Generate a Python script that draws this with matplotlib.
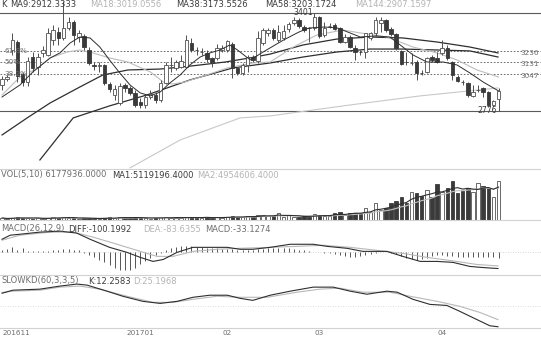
import numpy as np
import pandas as pd
import matplotlib
matplotlib.use('Agg')
import matplotlib.pyplot as plt

# ---- daily bars (index 0 = first bar on the left)
opens = [2942, 2980, 3166, 3217, 3012, 2961, 3121, 3057, 3147, 3134,
         3230, 3281, 3243, 3307, 3345, 3249, 3256, 3166, 3070, 3064,
         3070, 2948, 2878, 2827, 2942, 2923, 2891, 2833, 2814, 2865,
         2878, 2846, 2955, 3070, 3051, 3057, 3057, 3211, 3166, 3153,
         3147, 3115, 3115, 3166, 3166, 3204, 3051, 3019, 3070, 3121,
         3096, 3211, 3275, 3294, 3230, 3243, 3300, 3339, 3358, 3313,
         3307, 3307, 3377, 3262, 3320, 3326, 3307, 3217, 3249, 3179,
         3153, 3153, 3243, 3275, 3339, 3358, 3300, 3268, 3160, 3089,
         3083, 3089, 3019, 3025, 3121, 3115, 3147, 3179, 3089, 2993,
         2961, 2955, 2872, 2910, 2923, 2897, 2814, 2852]
closes = [2980, 2993, 3230, 3000, 2961, 3096, 3051, 3121, 3166, 3275,
          3294, 3243, 3307, 3345, 3262, 3275, 3185, 3083, 3064, 3070,
          2955, 2916, 2916, 2936, 2923, 2891, 2814, 2814, 2865, 2884,
          2846, 2955, 3070, 3072, 3089, 3096, 3230, 3166, 3164, 3155,
          3108, 3089, 3179, 3179, 3224, 3051, 3019, 3070, 3121, 3102,
          3243, 3294, 3294, 3243, 3281, 3288, 3332, 3358, 3320, 3294,
          3305, 3377, 3256, 3307, 3322, 3300, 3217, 3249, 3185, 3153,
          3151, 3275, 3275, 3358, 3358, 3294, 3268, 3179, 3076, 3087,
          3085, 3019, 3017, 3115, 3102, 3089, 3179, 3115, 3006, 2968,
          2959, 2878, 2897, 2912, 2897, 2814, 2840, 2904]
highs = [3000, 3006, 3275, 3230, 3025, 3121, 3153, 3147, 3192, 3307,
         3326, 3313, 3480, 3377, 3358, 3294, 3268, 3185, 3089, 3089,
         3076, 2961, 2942, 2955, 2955, 2936, 2910, 2859, 2878, 2910,
         2897, 2974, 3089, 3121, 3102, 3134, 3262, 3243, 3185, 3179,
         3166, 3121, 3204, 3198, 3230, 3217, 3057, 3083, 3134, 3134,
         3288, 3307, 3307, 3307, 3326, 3326, 3345, 3377, 3371, 3326,
         3313, 3401, 3384, 3345, 3339, 3339, 3313, 3268, 3262, 3198,
         3166, 3275, 3281, 3377, 3377, 3365, 3313, 3275, 3166, 3153,
         3147, 3102, 3038, 3121, 3134, 3153, 3230, 3198, 3096, 3006,
         2974, 2961, 2942, 2942, 2929, 2904, 2846, 2923]
lows = [2910, 2968, 3134, 2961, 2936, 2936, 3025, 3006, 3121, 3128,
        3198, 3198, 3230, 3294, 3198, 3217, 3166, 3070, 3038, 3025,
        2942, 2897, 2846, 2814, 2897, 2878, 2801, 2795, 2795, 2852,
        2827, 2833, 2948, 3025, 3038, 3051, 3051, 3153, 3134, 3134,
        3089, 3057, 3102, 3153, 3153, 2987, 3006, 3006, 3025, 3089,
        3083, 3198, 3256, 3230, 3217, 3230, 3281, 3326, 3307, 3281,
        3217, 3294, 3243, 3249, 3307, 3294, 3211, 3211, 3179, 3102,
        3134, 3115, 3230, 3256, 3281, 3281, 3256, 3166, 3070, 3070,
        3070, 2974, 3006, 3019, 3089, 3083, 3134, 3102, 2974, 2961,
        2942, 2865, 2865, 2897, 2865, 2801, 2801, 2776]
# volume, millions of shares
volume = [0.32, 0.16, 0.32, 0.48, 0.32, 0.32, 0.16, 0.32, 0.16, 0.32,
          0.48, 0.32, 0.48, 0.32, 0.32, 0.16, 0.32, 0.32, 0.16, 0.16,
          0.32, 0.48, 0.32, 0.48, 0.32, 0.32, 0.48, 0.32, 0.32, 0.16,
          0.32, 0.48, 0.48, 0.32, 0.32, 0.32, 0.48, 0.48, 0.32, 0.32,
          0.48, 0.32, 0.48, 0.32, 0.48, 0.63, 0.48, 0.48, 0.63, 0.48,
          0.79, 0.79, 0.63, 0.63, 1.11, 0.48, 0.79, 0.48, 0.48, 0.63,
          0.48, 0.95, 0.79, 0.63, 0.63, 1.11, 1.27, 0.79, 1.11, 1.11,
          1.11, 1.90, 1.27, 2.69, 1.58, 1.90, 2.69, 3.01, 3.64, 2.69,
          4.44, 4.28, 3.80, 4.75, 3.64, 5.70, 4.44, 5.07, 6.18, 4.28,
          4.59, 5.07, 4.44, 5.86, 5.39, 5.07, 3.64, 6.18]

# moving averages: (bar index, value)
ma9_x = [0, 3.5, 6, 9.4, 11.3, 13.3, 15.2, 17.2, 19.1, 21, 23, 25, 27, 29, 30.9, 32.8, 34.8,
         36.7, 38.7, 40.6, 42.6, 44.5, 46, 48.5, 51, 55, 58, 60, 63, 65.5, 68, 70, 73,
         75.8, 78.3, 80.3, 83, 86.2, 88.9, 91.4, 94, 97]
ma9_y = [2865, 2942, 3025, 3115, 3147, 3211, 3249, 3243, 3185, 3102, 3019, 2942, 2891, 2872,
         2897, 2955, 3006, 3070, 3121, 3147, 3166, 3198, 3166, 3102, 3153, 3230, 3281, 3307,
         3313, 3307, 3275, 3249, 3256, 3249, 3185, 3134, 3089, 3089, 3070, 3019, 2961, 2904]
ma18_x = [0, 3.5, 7, 9.4, 12.7, 15.2, 17.8, 21, 24.6, 29, 31.5, 33.2, 35.7, 40, 44, 49, 52.4,
          56.9, 61.5, 66.6, 70, 75.2, 80.3, 85, 88.9, 92.8, 97]
ma18_y = [2878, 2993, 3051, 3115, 3153, 3166, 3147, 3115, 3089, 3025, 2961, 2948, 2961, 3006,
          3051, 3083, 3089, 3185, 3262, 3294, 3275, 3249, 3185, 3147, 3102, 3038, 2993]
ma38_x = [0, 4.9, 9.4, 15.2, 19.7, 24.6, 30.9, 37.1, 43.6, 48.4, 52.4, 58.8, 65.4, 71.9, 78.3,
          85, 91.4, 96.9]
ma38_y = [2622, 2731, 2827, 2929, 3006, 3038, 3044, 3064, 3089, 3115, 3140, 3198, 3236, 3249,
          3243, 3217, 3185, 3147]
ma58_x = [7.4, 13.9, 21, 28.3, 36.7, 45.1, 52.4, 58.8, 65.4, 71.9, 78.3, 85, 91.4, 96.9]
ma58_y = [2462, 2731, 2808, 2878, 2974, 3051, 3083, 3121, 3153, 3172, 3172, 3166, 3160, 3121]
ma144_x = [25, 34.8, 46.5, 52.4, 68, 81.7, 96.9]
ma144_y = [2411, 2590, 2731, 2744, 2814, 2872, 2923]

# MACD(26,12,9)
diff_x = [0, 1.6, 3.5, 7.4, 11.3, 14.6, 17.2, 21, 24.4, 27, 29.5, 31.5, 34.2, 37.3, 40.6, 44,
          46.5, 49, 52.4, 56.3, 60.8, 63.5, 67.4, 70.5, 75.2, 78.3, 81.7, 85, 88.1, 91.4, 94, 96.9]
diff_y = [81, 106, 112, 125, 131, 119, 81, 31, 0, -31, -56, -44, 0, 31, 31, 31,
          19, 19, 31, 50, 50, 37, 25, 6, 6, -25, -56, -56, -62, -87, -94, -100]
dea_x = [0, 3.5, 9.4, 13.9, 17.8, 22.5, 27, 30.3, 33.4, 37.3, 42, 46.5, 52.4, 57.6, 62.7, 68,
         73.3, 78.3, 83, 87.5, 92.8, 96.9]
dea_y = [75, 106, 125, 125, 94, 50, 6, -25, -25, 6, 19, 25, 31, 37, 44, 31,
         12, -6, -31, -50, -75, -84]
macd_bar = [12, 19, 31, 12, 25, 6, 6, 6, 6, 6, 12, 12, 19, 19, 12, 12,
            -6, -19, -31, -50, -62, -81, -94, -106, -112, -106, -94, -75, -56,
            -37, -19, -6, 12, 25, 31, 37, 37, 37, 31, 31, 25,
            25, 25, 19, 19, 19, 12, 12, 12, 12, 19, 19, 25,
            25, 25, 25, 25, 19, 12, 12, 6, 0, 0, -6, -6, -12,
            -19, -25, -31, -31, -25, -19, -12, -6, 0, 0, -6, -12,
            -25, -37, -44, -50, -44, -37, -25, -19,
            -19, -25, -25, -31, -31, -31, -31, -31, -31, -31, -31, -33]

# SLOWKD(60,3,3,5)
k_x = [0, 2.1, 7.4, 11.3, 14.6, 16.6, 20.5, 23.6, 27.5, 30.9, 34.2, 37.3, 40.6, 44, 46.5, 49,
       52.4, 56.3, 60.8, 64.7, 68, 71.3, 75.2, 77.2, 80.3, 83.6, 86.9, 89.5, 92.8, 95.3, 96.9]
k_y = [73.6, 79.2, 81.1, 86.7, 90.4, 88.5, 77.4, 68.1, 58.8, 55.0, 58.8, 66.2, 70.0, 70.0, 64.3,
       60.6, 70.0, 77.4, 84.8, 84.8, 77.4, 71.8, 77.4, 75.5, 62.5, 53.2, 51.3, 40.2, 25.3, 14.1, 12.3]
d_x = [0, 2.1, 7.4, 11.3, 15.2, 19.1, 24.4, 29.5, 33.4, 37.3, 42, 46.5, 51.8, 57.6, 62.1, 66,
       70.5, 75.8, 79.7, 85, 89.5, 93.4, 96.9]
d_y = [75.0, 77.4, 79.2, 84.8, 86.7, 81.1, 68.1, 56.9, 56.9, 62.5, 68.1, 66.2, 66.2, 75.5, 81.1,
       82.9, 75.5, 75.5, 68.1, 58.8, 49.5, 38.3, 25.3]

month_pos = [0, 27, 44, 62, 86]
month_lab = ['201611', '201701', '02', '03', '04']

hi_lo = [3401, 2776]
fib_ratio = [0.618, 0.5, 0.382]
fib_lab = ['61.8%', '50%', '38.2%']
right_lab = ['3236', '3131', '3047']

W, H = 541, 338
DARK = '#3c3c3c'
LIGHT = '#b4b4b4'
GRAY = '#6e6e6e'
SEP = '#d2d2d2'
FS = 6.0

fig = plt.figure(figsize=(W / 100, H / 100), dpi=100)
fig.patch.set_facecolor('white')


def panel(top, bottom):
    ax = fig.add_axes([0, 1 - bottom / H, 1, (bottom - top) / H])
    ax.set_xlim(-0.4, 105.3)
    for s in ax.spines.values():
        s.set_visible(False)
    ax.set_xticks([])
    ax.set_yticks([])
    return ax


def ptext(x, y, s, color, **kw):
    fig.text(x / W, 1 - y / H, s, color=color, fontsize=FS, va='center', ha='left', **kw)


n = len(opens)
idx = np.arange(n)
o = np.array(opens, float)
c = np.array(closes, float)
up = c >= o

# ---------------- price panel
ax = panel(10, 169)
ax.set_ylim(2404, 3422)
ax.vlines(idx, lows, highs, color='#505050', lw=0.7, zorder=2, clip_on=False)
body_lo = np.minimum(o, c)
body_h = np.maximum(np.abs(c - o), 2.5)
ax.bar(idx[up], body_h[up], bottom=body_lo[up], width=0.68, color='white',
       edgecolor='#505050', lw=0.6, zorder=3)
ax.bar(idx[~up], body_h[~up], bottom=body_lo[~up], width=0.68, color='#3a3a3a',
       edgecolor='#3a3a3a', lw=0.6, zorder=3)

ax.plot(ma144_x, ma144_y, color='#c8c8c8', lw=0.8, zorder=1)
ax.plot(ma58_x, ma58_y, color='#2e2e2e', lw=0.9, zorder=1)
ax.plot(ma38_x, ma38_y, color='#2e2e2e', lw=0.9, zorder=1)
ax.plot(ma18_x, ma18_y, color='#bdbdbd', lw=0.8, zorder=1)
ax.plot(ma9_x, ma9_y, color='#2e2e2e', lw=0.7, zorder=4)

hi, lo = hi_lo
ax.axhline(hi, color='#5a5a5a', lw=0.8, zorder=0)
ax.axhline(lo, color='#5a5a5a', lw=0.8, zorder=0)
for r, lab, rl in zip(fib_ratio, fib_lab, right_lab):
    lv = lo + r * (hi - lo)
    ax.axhline(lv, color='#555555', lw=0.6, ls=(0, (2, 2)), zorder=0)
    ax.text(0.5, lv, lab, fontsize=FS - 0.8, color=GRAY, va='center', ha='left', zorder=5)
    ax.text(104.8, lv - 14, rl, fontsize=FS - 0.8, color=GRAY, va='center', ha='right')
ax.text(int(np.argmax(highs[20:])) + 20 - 0.2, hi + 4, str(hi), fontsize=FS - 0.4,
        color=DARK, ha='right', va='center', zorder=5)
ax.text(int(np.argmin(lows)) - 0.3, lo + 4, str(lo), fontsize=FS - 0.4, color=DARK,
        ha='right', va='center')

ptext(1, 4.5, 'K', DARK)
ptext(10, 4.5, 'MA9:2912.3333', DARK)
ptext(90, 4.5, 'MA18:3019.0556', LIGHT)
ptext(176, 4.5, 'MA38:3173.5526', DARK)
ptext(265, 4.5, 'MA58:3203.1724', DARK)
ptext(355, 4.5, 'MA144:2907.1597', LIGHT)

# ---------------- volume panel
ax = panel(169, 220)
ax.set_ylim(0, 8.1)
ax.spines['top'].set_visible(True)
ax.spines['top'].set_color(SEP)
v = np.array(volume)
ax.bar(idx[up], v[up], width=0.68, color='white', edgecolor='#505050', lw=0.6)
ax.bar(idx[~up], v[~up], width=0.68, color='#3a3a3a', edgecolor='#3a3a3a', lw=0.6)
vs = pd.Series(volume)
ax.plot(idx, vs.rolling(10, min_periods=1).mean(), color='#c0c0c0', lw=0.8)
ax.plot(idx, vs.rolling(5, min_periods=1).mean(), color='#2e2e2e', lw=0.8)
ptext(1, 175, 'VOL(5,10) 6177936.0000', GRAY)
ptext(112, 175, 'MA1:5119196.4000', DARK)
ptext(197, 175, 'MA2:4954606.4000', LIGHT)

# ---------------- MACD panel
ax = panel(220, 275)
ax.set_ylim(-140, 200)
ax.spines['top'].set_visible(True)
ax.spines['top'].set_color(SEP)
ax.axhline(0, color='#c8c8c8', lw=0.6, ls=(0, (1, 2)))
ax.vlines(idx, 0, macd_bar, color='#555555', lw=0.7)
ax.plot(dea_x, dea_y, color='#b8b8b8', lw=0.8)
ax.plot(diff_x, diff_y, color='#2e2e2e', lw=0.8)
ptext(1, 229, 'MACD(26,12,9)', GRAY)
ptext(68, 229, 'DIFF:-100.1992', DARK)
ptext(143, 229, 'DEA:-83.6355', LIGHT)
ptext(205, 229, 'MACD:-33.1274', GRAY)

# ---------------- slow KD panel
ax = panel(275, 328)
ax.set_ylim(10, 107)
ax.spines['top'].set_visible(True)
ax.spines['top'].set_color(SEP)
ax.spines['bottom'].set_visible(True)
ax.spines['bottom'].set_color(SEP)
ax.axhline(50, color='#d0d0d0', lw=0.6, ls=(0, (1, 2)))
ax.plot(d_x, d_y, color='#b8b8b8', lw=0.8)
ax.plot(k_x, k_y, color='#2e2e2e', lw=0.8)
ax.set_xticks(month_pos)
ax.set_xticklabels(month_lab, fontsize=FS - 0.8, color=GRAY)
ax.tick_params(axis='x', length=0, pad=1.5)
ax.get_xticklabels()[0].set_ha('left')
ptext(1, 281, 'SLOWKD(60,3,3,5)', GRAY)
ptext(88, 281, 'K:12.2583', DARK)
ptext(133, 281, 'D:25.1968', LIGHT)

fig.savefig('out.png', dpi=100, facecolor='white')
